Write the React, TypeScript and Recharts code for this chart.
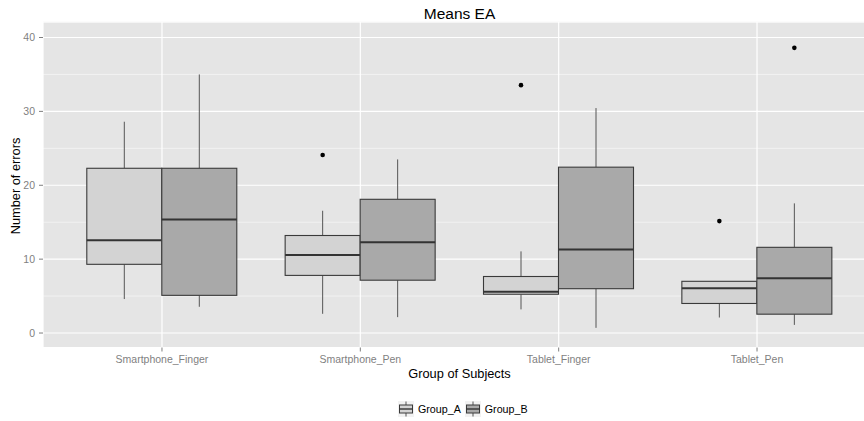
import React from 'react';
import { ComposedChart, Bar, XAxis, YAxis, CartesianGrid } from 'recharts';

const categories = ['Smartphone_Finger', 'Smartphone_Pen', 'Tablet_Finger', 'Tablet_Pen'];

const groupAMin = [4.6, 2.6, 3.2, 2.1];
const groupAQ1 = [9.3, 7.8, 5.25, 4.0];
const groupAMedian = [12.55, 10.55, 5.6, 6.05];
const groupAQ3 = [22.3, 13.2, 7.65, 7.0];
const groupAMax = [28.6, 16.55, 11.05, 7.0];
const groupAOutliers = [[], [24.1], [33.55], [15.15]];

const groupBMin = [3.55, 2.15, 0.7, 1.1];
const groupBQ1 = [5.1, 7.15, 6.0, 2.55];
const groupBMedian = [15.35, 12.3, 11.3, 7.4];
const groupBQ3 = [22.3, 18.1, 22.45, 11.6];
const groupBMax = [35.0, 23.5, 30.45, 17.55];
const groupBOutliers = [[], [], [], [38.6]];

const yTicks = [0, 10, 20, 30, 40];
const yMinorTicks = [5, 15, 25, 35];
const yDomain = [-1.96, 42.1];

const data = categories.map((c, i) => ({
  category: c,
  A: { min: groupAMin[i], q1: groupAQ1[i], median: groupAMedian[i], q3: groupAQ3[i], max: groupAMax[i], outliers: groupAOutliers[i] },
  B: { min: groupBMin[i], q1: groupBQ1[i], median: groupBMedian[i], q3: groupBQ3[i], max: groupBMax[i], outliers: groupBOutliers[i] },
}));

const FONT = '"Liberation Sans", Arial, sans-serif';
const FILL_A = '#d3d3d3';
const FILL_B = '#a9a9a9';
const EDGE = '#3a3a3a';

const makeShape = (g: 'A' | 'B', fill: string) => (props: any) => {
  const { x, y, width, height, payload } = props;
  const s = payload[g];
  const top = Math.min(y, y + height);
  const h = Math.abs(height);
  const k = h / (s.q3 - s.q1);
  const toPx = (v: number) => top + (s.q3 - v) * k;
  const cx = x + width / 2;
  return (
    <g>
      <line x1={cx} x2={cx} y1={toPx(s.max)} y2={toPx(s.q3)} stroke="#555" strokeWidth={1} />
      <line x1={cx} x2={cx} y1={toPx(s.q1)} y2={toPx(s.min)} stroke="#555" strokeWidth={1} />
      <rect x={x} y={top} width={width} height={h} fill={fill} stroke={EDGE} strokeWidth={1.1} />
      <line x1={x} x2={x + width} y1={toPx(s.median)} y2={toPx(s.median)} stroke="#333" strokeWidth={2} />
      {s.outliers.map((o: number, j: number) => (
        <circle key={j} cx={cx} cy={toPx(o)} r={2.3} fill="#000" />
      ))}
    </g>
  );
};

const LegendKey = ({ fill }: { fill: string }) => (
  <svg width={18} height={18} style={{ display: 'block' }}>
    <rect x={0.5} y={0.5} width={17} height={17} fill="#f2f2f2" stroke="#fff" />
    <line x1={9} x2={9} y1={1.5} y2={16.5} stroke="#555" strokeWidth={1} />
    <rect x={2.5} y={5} width={13} height={8} fill={fill} stroke={EDGE} strokeWidth={1} />
    <line x1={2.5} x2={15.5} y1={9} y2={9} stroke="#333" strokeWidth={1.4} />
  </svg>
);

export default function App() {
  return (
    <div style={{ position: 'absolute', left: 0, top: 0, width: 864, height: 421, overflow: 'hidden', background: '#fff', fontFamily: FONT }}>
      <ComposedChart
        width={878}
        height={421}
        data={data}
        margin={{ top: 22, right: 2, bottom: 43.5, left: 0 }}
        barGap={0}
        barSize={75}
      >
        <CartesianGrid
          yAxisId="minor"
          fill="#e5e5e5"
          vertical={false}
          stroke="#f2f2f2"
          strokeWidth={1}
        />
        <CartesianGrid stroke="#ffffff" strokeWidth={1.2} />
        <XAxis
          dataKey="category"
          type="category"
          height={30}
          padding={{ left: 19.8, right: 19.8 }}
          axisLine={false}
          tickSize={4}
          tickMargin={4}
          tickLine={{ stroke: '#7f7f7f' }}
          tick={{ fill: '#7f7f7f', fontSize: 10.5, fontFamily: FONT }}
          interval={0}
        />
        <YAxis
          type="number"
          width={43}
          domain={yDomain}
          allowDataOverflow
          ticks={yTicks}
          axisLine={false}
          tickSize={4}
          tickMargin={4}
          tickLine={{ stroke: '#7f7f7f' }}
          tick={{ fill: '#7f7f7f', fontSize: 10.5, fontFamily: FONT }}
        />
        <YAxis
          yAxisId="minor"
          type="number"
          orientation="right"
          width={0}
          hide
          domain={yDomain}
          allowDataOverflow
          ticks={yMinorTicks}
        />
        <Bar
          name="Group_A"
          dataKey={(d: any) => [d.A.q1, d.A.q3]}
          fill={FILL_A}
          isAnimationActive={false}
          shape={makeShape('A', FILL_A)}
        />
        <Bar
          name="Group_B"
          dataKey={(d: any) => [d.B.q1, d.B.q3]}
          fill={FILL_B}
          isAnimationActive={false}
          shape={makeShape('B', FILL_B)}
        />
      </ComposedChart>

      <div style={{ position: 'absolute', left: 459.5, top: 6.4, transform: 'translateX(-50%)', fontSize: 15.5, lineHeight: '15.5px', whiteSpace: 'nowrap', color: '#000' }}>
        Means EA
      </div>
      <div style={{ position: 'absolute', left: 459.5, top: 367.7, transform: 'translateX(-50%)', fontSize: 12.8, lineHeight: '12.8px', whiteSpace: 'nowrap', color: '#000' }}>
        Group of Subjects
      </div>
      <div style={{ position: 'absolute', left: 15.5, top: 186, transform: 'translate(-50%, -50%) rotate(-90deg)', fontSize: 12.8, lineHeight: '12.8px', whiteSpace: 'nowrap', color: '#000' }}>
        Number of errors
      </div>

      <div style={{ position: 'absolute', left: 397, top: 399.5, display: 'flex', alignItems: 'center', fontSize: 10.7, lineHeight: '18px', color: '#000', whiteSpace: 'nowrap' }}>
        <LegendKey fill={FILL_A} />
        <span style={{ marginLeft: 3, marginRight: 3 }}>Group_A</span>
        <LegendKey fill={FILL_B} />
        <span style={{ marginLeft: 3 }}>Group_B</span>
      </div>
    </div>
  );
}
